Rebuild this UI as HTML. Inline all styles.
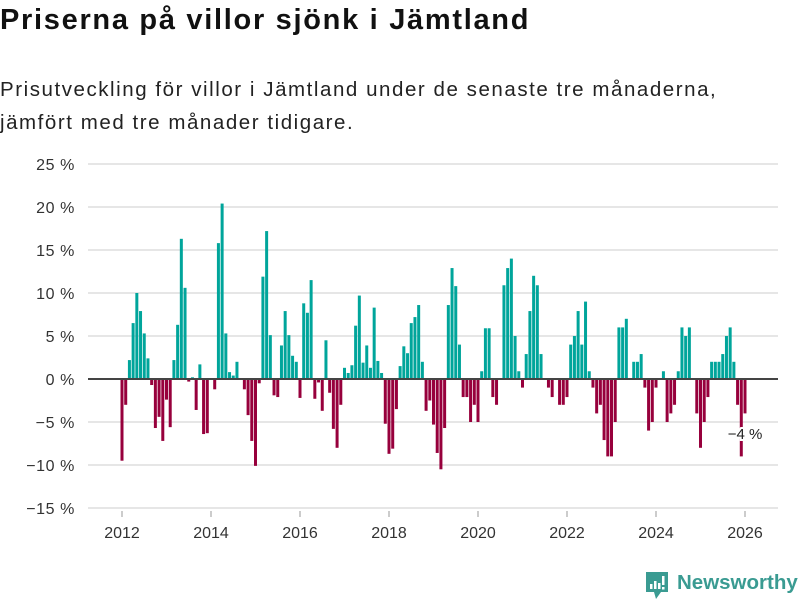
<!DOCTYPE html>
<html><head><meta charset="utf-8"><style>
body{margin:0;width:800px;height:600px;background:#fff;overflow:hidden;font-family:"Liberation Sans","DejaVu Sans",sans-serif;color:#111}
h1{position:absolute;left:0;top:4px;margin:0;font-size:29px;font-weight:bold;letter-spacing:1.7px;white-space:nowrap}
.sub{position:absolute;left:0;top:73px;font-size:20.5px;line-height:33px;color:#222;letter-spacing:1.55px;white-space:nowrap}
svg{position:absolute;left:0;top:0}
</style></head><body>
<h1>Priserna på villor sjönk i Jämtland</h1>
<div class="sub">Prisutveckling för villor i Jämtland under de senaste tre månaderna,<br>jämfört med tre månader tidigare.</div>
<svg id="chart" width="800" height="600"></svg>
<script>
const values = [-9.5,-3.0,2.2,6.5,10.0,7.9,5.3,2.4,-0.7,-5.7,-4.4,-7.2,-2.4,-5.6,2.2,6.3,16.3,10.6,-0.3,0.2,-3.6,1.7,-6.4,-6.3,
0,-1.2,15.8,20.4,5.3,0.8,0.4,2.0,0,-1.2,-4.2,-7.2,-10.1,-0.5,11.9,17.2,5.1,-1.9,-2.1,3.9,7.9,5.1,2.7,2.0,
-2.2,8.8,7.7,11.5,-2.3,-0.4,-3.7,4.5,-1.6,-5.8,-8.0,-3.0,1.3,0.7,1.6,6.2,9.7,1.9,3.9,1.3,8.3,2.1,0.7,-5.2,
-8.7,-8.1,-3.5,1.5,3.8,3.0,6.5,7.2,8.6,2.0,-3.7,-2.5,-5.3,-8.6,-10.5,-5.7,8.6,12.9,10.8,4.0,-2.1,-2.1,-5.0,-3.0,
-5.0,0.9,5.9,5.9,-2.1,-3.0,0,10.9,12.9,14.0,5.0,0.9,-1.0,2.9,7.9,12.0,10.9,2.9,0,-1.0,-2.1,0,-3.0,-3.0,
-2.1,4.0,5.0,7.9,4.0,9.0,0.9,-1.0,-4.0,-3.0,-7.1,-9.0,-9.0,-5.0,6.0,6.0,7.0,0,2.0,2.0,2.9,-1.0,-6.0,-5.0,
-1.0,0,0.9,-5.0,-4.0,-3.0,0.9,6.0,5.0,6.0,0,-4.0,-8.0,-5.0,-2.1,2.0,2.0,2.0,2.9,5.0,6.0,2.0,-3.0,-9.0,-4.0];
const yTicks = [25,20,15,10,5,0,-5,-10,-15];
const xYears = [2012,2014,2016,2018,2020,2022,2024,2026];
const startYear = 2012;
const lastLabel = "−4 %";

const svg=document.getElementById('chart');
const NS='http://www.w3.org/2000/svg';
const y=v=>379-v*8.6;
const x=i=>122+i*(623/168);
const xYear=yr=>122+(yr-startYear)*44.5;
function mk(t,a){const e=document.createElementNS(NS,t);for(const k in a)e.setAttribute(k,a[k]);svg.appendChild(e);return e;}
yTicks.forEach(t=>{
  if(t!==0){const g=mk('line',{x1:88,x2:778,y1:y(t),y2:y(t),stroke:'#dedede','stroke-width':1.5});
  
  }
  const l=mk('text',{x:75,y:y(t)+6,'text-anchor':'end','font-size':16,fill:'#333','letter-spacing':0.6});
  l.textContent=(t<0?'−'+(-t):t)+' %';
  
  
});
xYears.forEach(yr=>{
  const l=mk('text',{x:xYear(yr),y:538,'text-anchor':'middle','font-size':16,fill:'#333'});
  l.textContent=yr;
  
  
  const tk=mk('line',{x1:xYear(yr),x2:xYear(yr),y1:511,y2:517,stroke:'#999'});
  
  
});
values.forEach((v,i)=>{
  if(v===0)return;
  const b=mk('rect',{x:x(i)-1.5,width:3,y:Math.min(y(v),y(0)),height:Math.abs(y(v)-y(0)),fill:v>0?'#00a59b':'#97003c'});
  
  
});
const z=mk('line',{x1:88,x2:778,y1:y(0),y2:y(0),stroke:'#444','stroke-width':2});


const lab=mk('text',{x:x(values.length-1),y:439,'text-anchor':'middle','font-size':15,fill:'#222',stroke:'#fff','stroke-width':4,'paint-order':'stroke'});
lab.textContent=lastLabel;


</script>
<svg width="800" height="600" style="pointer-events:none">
<path d="M646 572 h22 v20 h-7 l-5 7 l-2 -7 h-8z" fill="#3a9b92"/>
<rect x="650" y="584" width="2.5" height="5" fill="#fff"/>
<rect x="654" y="581" width="2.5" height="8" fill="#fff"/>
<rect x="658" y="583" width="2.5" height="6" fill="#fff"/>
<rect x="662" y="576" width="2.5" height="9" fill="#fff"/>
<rect x="662" y="587" width="2.5" height="2.5" fill="#fff"/>
<text x="677" y="589" font-size="20.5" font-weight="bold" fill="#3a9b92" font-family="Liberation Sans, sans-serif">Newsworthy</text>
</svg>
</body></html>
